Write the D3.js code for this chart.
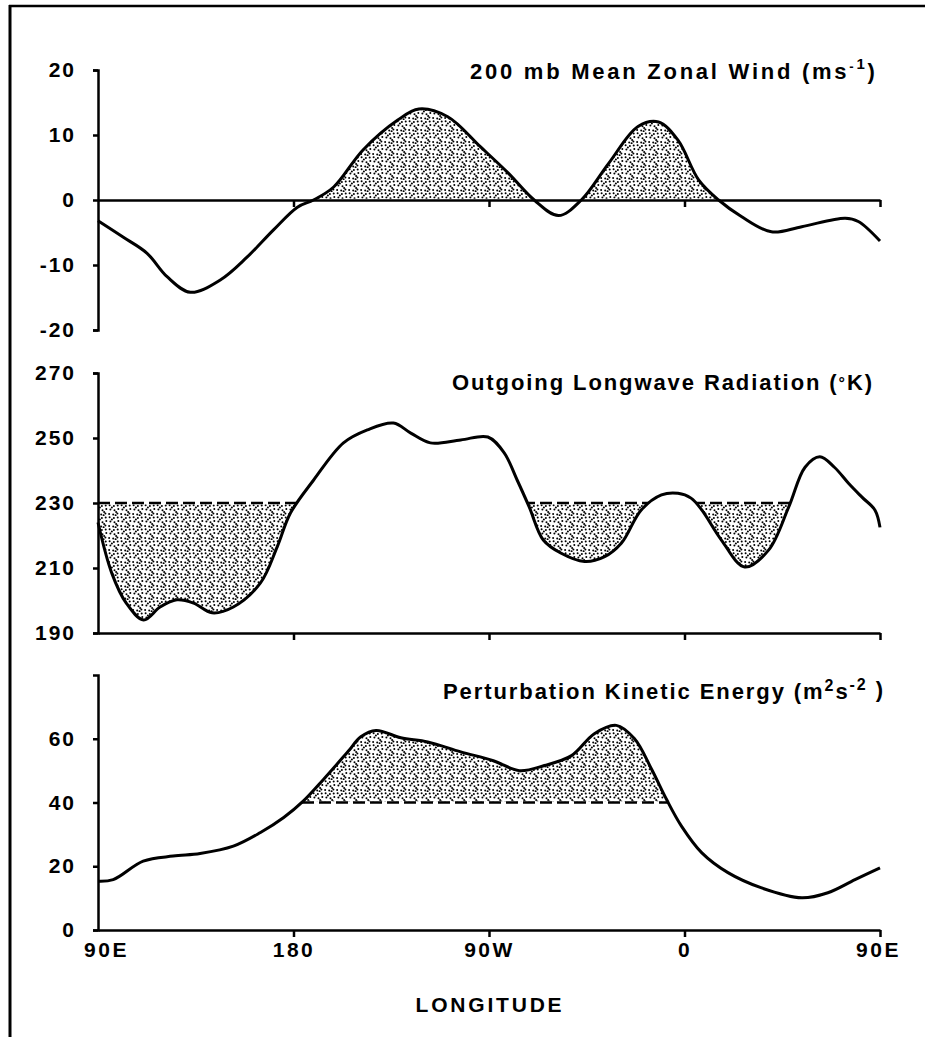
<!DOCTYPE html>
<html><head><meta charset="utf-8">
<script src="https://cdn.jsdelivr.net/npm/d3@7"></script>
<style>
body{margin:0;background:#fff;}
svg text{font-family:"Liberation Sans",Arial,Helvetica,sans-serif;fill:#000;font-weight:bold;}
</style></head><body>
<svg id="chart" width="925" height="1037"></svg>
<script>
// Longitude in degrees east, running eastward from 90E over the date line back to 90E (450 = 90E + 360)
const lonTicks = [90, 180, 270, 360, 450];
const lonLabels = ["90E", "180", "90W", "0", "90E"];

// 200 mb mean zonal wind (m/s)
const windLon = [90, 101.5, 112.6, 121.8, 132.5, 146.3, 158.6, 170.8, 181.8, 189.2, 198.5, 212, 228, 237.7, 251, 266, 279, 290.8, 302, 312.5, 325, 338.6, 348, 357, 366.5, 375.7, 386, 400, 414, 434, 440, 450];
const windVal = [-3.2, -5.7, -8.2, -11.8, -14.2, -12.3, -8.8, -4.6, -1.1, 0, 2, 7.7, 12.3, 14.0, 12.8, 8.2, 4.1, 0, -2.4, 0, 5.6, 11.3, 12, 9.2, 3.1, 0, -2.5, -4.9, -4.1, -2.8, -3.3, -6.3];
const windTicks = [-20, -10, 0, 10, 20];

// Outgoing longwave radiation (K)
const olrLon = [90, 96.3, 103, 111, 118.6, 126.3, 134, 142.5, 152.3, 164.8, 172.5, 178.6, 189.2, 203, 214, 226, 234, 243, 257, 269.5, 277, 283, 288.5, 295, 303, 314, 323, 331, 340, 349.4, 357, 363, 368, 377, 387.7, 398.7, 408, 415.5, 422.3, 429, 435.6, 441.7, 447.7, 450];
const olrVal = [224, 208.5, 199.2, 194, 198, 200.2, 199.2, 196.2, 198, 205.4, 216.5, 226.9, 237, 248.5, 252.5, 254.6, 251.5, 248.5, 249.4, 250.3, 245.4, 237, 228.8, 218.6, 214.6, 212, 213.4, 217.7, 227.8, 232.5, 233, 231.5, 227.8, 218.6, 210.3, 215.5, 228.8, 241, 244.2, 241, 236, 231.8, 227.8, 222.5];
const olrTicks = [190, 210, 230, 250, 270];

// Perturbation kinetic energy (m2/s2)
const pkeLon = [90, 97, 110.8, 124.6, 137, 152.3, 164.8, 175.5, 184.6, 194, 205, 211, 218, 229.4, 241.8, 257, 272, 284, 295.5, 308, 318.5, 328.6, 337, 344.8, 351.7, 358.6, 368, 380, 395.5, 414, 426, 438.5, 450];
const pkeVal = [15.3, 15.8, 21.6, 23.2, 24, 26.3, 30.6, 35.3, 40.5, 47.4, 55.9, 60.6, 62.6, 60.3, 59, 55.9, 53.1, 50, 51.6, 54.7, 61.6, 64.2, 60, 50.5, 41, 32.6, 24.2, 18, 13.2, 10.1, 11.7, 15.8, 19.5];
const pkeTicks = [0, 20, 40, 60];

const svg = d3.select("#chart");
const x = d3.scaleLinear().domain([90, 450]).range([98, 880]);
const curve = d3.curveCatmullRom.alpha(0.5);
const tickFmt = d => String(d);

// stipple fill
const defs = svg.append("defs");
const pat = defs.append("pattern").attr("id", "stipple").attr("patternUnits", "userSpaceOnUse")
  .attr("width", 12).attr("height", 12);
[[1.6,1.2],[5.9,2.1],[9.7,1.5],[2.4,5.6],[6.5,6.2],[10.3,5.1],[1.1,9.9],[5.2,10.4],[9.4,9.6],[3.9,3.6],[8.1,8.0],[7.6,11.2]]
  .forEach(p => pat.append("circle").attr("cx", p[0]).attr("cy", p[1]).attr("r", 1.0).attr("fill", "#000"));

// frame
svg.append("line").attr("x1", 10).attr("x2", 10).attr("y1", 5).attr("y2", 1037).attr("stroke", "#000").attr("stroke-width", 3);
svg.append("line").attr("x1", 9).attr("x2", 925).attr("y1", 6).attr("y2", 6).attr("stroke", "#000").attr("stroke-width", 2.5);

const panels = [
  {id: "wind", lon: windLon, val: windVal, domain: [-20, 20], top: 70, bottom: 330, ticks: windTicks,
   threshold: 0, side: "above", dashed: false, axisY: 0, xLabels: false, shade: [90, 450]},
  {id: "olr", lon: olrLon, val: olrVal, domain: [190, 270], top: 373, bottom: 633, ticks: olrTicks,
   threshold: 230, side: "below", dashed: true, axisY: 190, xLabels: false, shade: [90, 438]},
  {id: "pke", lon: pkeLon, val: pkeVal, domain: [0, 80], top: 675, bottom: 930, ticks: pkeTicks,
   threshold: 40, side: "above", dashed: true, axisY: 0, xLabels: true, shade: [90, 450]}
];

function styleAxis(g, size, spacing) {
  g.select(".domain").attr("stroke-width", 2.5);
  g.selectAll(".tick line").attr("stroke-width", 2.5);
  g.selectAll(".tick text").attr("font-size", size).attr("fill", "#000").attr("font-family", null)
    .attr("letter-spacing", spacing + "px");
}

panels.forEach(p => {
  const y = d3.scaleLinear().domain(p.domain).range([p.bottom, p.top]);
  const pts = p.lon.map((l, i) => [l, p.val[i]]);
  const g = svg.append("g");
  const yT = y(p.threshold);
  const sx0 = x(p.shade[0]), sx1 = x(p.shade[1]);

  // clip for the fill: only the side of the threshold being highlighted
  const fillClip = defs.append("clipPath").attr("id", "fill-" + p.id);
  if (p.side === "above") fillClip.append("rect").attr("x", sx0).attr("y", p.top - 30).attr("width", sx1 - sx0).attr("height", yT - p.top + 28.8);
  else fillClip.append("rect").attr("x", sx0).attr("y", yT + 1.2).attr("width", sx1 - sx0).attr("height", p.bottom - yT + 30);

  const area = d3.area().x(d => x(d[0])).y0(yT).y1(d => y(d[1])).curve(curve);
  g.append("path").datum(pts).attr("d", area).attr("fill", "url(#stipple)").attr("clip-path", `url(#fill-${p.id})`);

  // dashed reference level, drawn only where the curve lies on the highlighted side
  if (p.dashed) {
    const dashClip = defs.append("clipPath").attr("id", "dash-" + p.id);
    const edge = p.side === "above" ? p.bottom + 30 : p.top - 30;
    dashClip.append("path").datum(pts)
      .attr("d", d3.area().x(d => x(d[0])).y0(edge).y1(d => y(d[1])).curve(curve));
    g.append("line").attr("x1", sx0).attr("x2", sx1).attr("y1", yT).attr("y2", yT)
      .attr("stroke", "#000").attr("stroke-width", 2.6).attr("stroke-dasharray", "12 5")
      .attr("clip-path", `url(#dash-${p.id})`);
  }

  // horizontal axis
  const xa = g.append("g").attr("transform", `translate(0,${y(p.axisY)})`);
  if (p.xLabels) {
    xa.call(d3.axisBottom(x).tickValues(lonTicks).tickSize(7).tickSizeOuter(0).tickPadding(5)
      .tickFormat((d, i) => lonLabels[i]));
  } else {
    xa.call(d3.axisBottom(x).tickValues(lonTicks.slice(1)).tickSize(7).tickSizeOuter(0).tickFormat(""));
  }
  styleAxis(xa, 21, 2.5);
  if (p.xLabels) {
    xa.selectAll(".tick text").attr("dx", (d, i) => i === 0 ? 8 : (i === 4 ? -2 : 0));
  }
  xa.selectAll(".tick").filter(d => d === 90).select("line").remove();

  // vertical axis
  const ya = g.append("g").attr("transform", `translate(${x(90)},0)`)
    .call(d3.axisLeft(y).tickValues(p.ticks).tickSize(5).tickPadding(17).tickFormat(tickFmt));
  styleAxis(ya, 21, 2);

  // data curve
  g.append("path").datum(pts).attr("d", d3.line().x(d => x(d[0])).y(d => y(d[1])).curve(curve))
    .attr("fill", "none").attr("stroke", "#000").attr("stroke-width", 3).attr("stroke-linejoin", "round");
});

// panel titles, spaced out to their printed widths
function title(left, width, baseline, parts) {
  const t = svg.append("text").attr("x", left).attr("y", baseline).attr("font-size", 22);
  parts.forEach(pt => {
    const s = t.append("tspan").text(pt.t);
    if (pt.size) s.attr("font-size", pt.size);
    if (pt.dy) s.attr("dy", pt.dy);
  });
  const n = t.text().length;
  const w0 = t.node().getComputedTextLength();
  t.attr("letter-spacing", ((width - w0) / (n - 1)).toFixed(2) + "px");
}
title(470, 405, 79, [{t: "200 mb Mean Zonal Wind (ms"}, {t: "-", size: 13, dy: -8}, {t: "1", size: 15, dy: -2}, {t: ")", dy: 10}]);
title(452, 420, 390, [{t: "Outgoing Longwave Radiation ("}, {t: "°", size: 16, dy: -1}, {t: "K)", dy: 1}]);
title(443, 440, 699, [{t: "Perturbation Kinetic Energy (m"}, {t: "2", size: 16, dy: -8}, {t: "s", dy: 8}, {t: "-2", size: 16, dy: -9}, {t: " )", dy: 7}]);

svg.append("text").attr("x", 490).attr("y", 1012).attr("font-size", 21).attr("text-anchor", "middle")
  .attr("letter-spacing", "2.8px").text("LONGITUDE");
</script>
</body></html>
